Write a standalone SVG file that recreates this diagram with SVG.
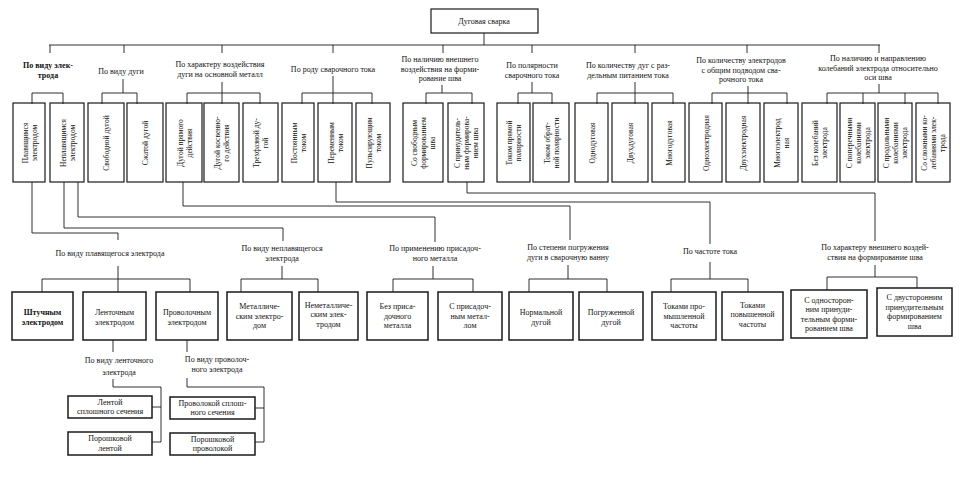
<svg xmlns="http://www.w3.org/2000/svg" width="960" height="487" viewBox="0 0 960 487">
<style>
.bg{fill:#fff}
.box{fill:none;stroke:#1a1a1a;stroke-width:1.2}
.bb{fill:none;stroke:#1a1a1a;stroke-width:1.5}
.ln{fill:none;stroke:#1a1a1a;stroke-width:0.9}
.t{font-family:"Liberation Serif","DejaVu Serif",serif;font-size:8px;fill:#111;text-anchor:middle}
.v{font-family:"Liberation Serif","DejaVu Serif",serif;font-size:7.5px;fill:#111;text-anchor:middle}
.b{font-weight:bold}
</style>
<rect class="bg" x="0" y="0" width="960" height="487"/>

<g id="connectors">
<path class="ln" d="M484 33V45M49 45H880"/>
<path class="ln" d="M50 45V53M124 45V53M222 45V53M333 45V53M443 45V53M532 45V53M635 45V53M747 45V53M879 45V53"/>
<path class="ln" d="M32 104V93H63V104"/>
<path class="ln" d="M123 79V93M102 104V93H137V104"/>
<path class="ln" d="M222 82V104M187 104V93H260V104"/>
<path class="ln" d="M333 76V104M302 104V93H372V104"/>
<path class="ln" d="M442 85V93M426 104V93H472V104"/>
<path class="ln" d="M532 82V93M518 104V93H552V104"/>
<path class="ln" d="M635 82V104M597 104V93H673V104"/>
<path class="ln" d="M748 86V104M712 104V93H787V104"/>
<path class="ln" d="M879 84V93M827 104V93H938V104M863 93V104M905 93V104"/>
<path class="ln" d="M32 182V233H118V240"/>
<path class="ln" d="M64 182V228H283V241"/>
<path class="ln" d="M78 182V217H435V242"/>
<path class="ln" d="M183 182V206H570V240"/>
<path class="ln" d="M336 182V202H710V244"/>
<path class="ln" d="M467 182V193H875V241"/>
<path class="ln" d="M118 266V292M42 292V279H190V292"/>
<path class="ln" d="M282 266V279M241 292V279H318V292"/>
<path class="ln" d="M433 266V279M393 292V279H473V292"/>
<path class="ln" d="M568 265V279M529 292V279H607V292"/>
<path class="ln" d="M710 262V279M671 292V279H748V292"/>
<path class="ln" d="M875 265V277M827 290V277H917V288"/>
<path class="ln" d="M113 340V352M113 379V387H161V442H152M152 407H161"/>
<path class="ln" d="M187 340V352M187 378V387H264V442H255M255 408H264"/>
</g>

<g id="root">
<rect class="box" x="431" y="9" width="107" height="24"/>
<text class="t" x="484" y="24">Дуговая сварка</text>
</g>

<g id="group-labels">
<text class="t b" x="48" y="68">По виду элек-<tspan x="48" y="78">трода</tspan></text>
<text class="t" x="121" y="74">По виду дуги</text>
<text class="t" x="220" y="67">По характеру воздействия<tspan x="220" y="77">дуги на основной металл</tspan></text>
<text class="t" x="333" y="72">По роду сварочного тока</text>
<text class="t" x="440" y="62">По наличию внешнего<tspan x="440" y="71.5">воздействия на форми-</tspan><tspan x="440" y="81">рование шва</tspan></text>
<text class="t" x="532" y="68">По полярности<tspan x="532" y="78">сварочного тока</tspan></text>
<text class="t" x="628" y="68">По количеству дуг с раз-<tspan x="628" y="78">дельным питанием тока</tspan></text>
<text class="t" x="741" y="63">По количеству электродов<tspan x="741" y="72.5">с общим подводом сва-</tspan><tspan x="741" y="82">рочного тока</tspan></text>
<text class="t" x="878" y="61">По наличию и направлению<tspan x="878" y="70.5">колебаний электрода относительно</tspan><tspan x="878" y="80">оси шва</tspan></text>
</g>

<g id="v1"><rect class="box" x="13" y="103" width="32" height="79"/><text class="v" transform="translate(29,143) rotate(-90)"><tspan x="0" y="-1.5">Плавящимся</tspan><tspan x="0" y="7.5">электродом</tspan></text></g>
<g id="v2"><rect class="box" x="50" y="103" width="34" height="79"/><text class="v" transform="translate(67,143) rotate(-90)"><tspan x="0" y="-1.5">Неплавящимся</tspan><tspan x="0" y="7.5">электродом</tspan></text></g>
<g id="v3"><rect class="box" x="88" y="103" width="36" height="79"/><text class="v" transform="translate(106,143) rotate(-90)"><tspan x="0" y="3">Свободной дугой</tspan></text></g>
<g id="v4"><rect class="box" x="127" y="103" width="36" height="79"/><text class="v" transform="translate(145,143) rotate(-90)"><tspan x="0" y="3">Сжатой дугой</tspan></text></g>
<g id="v5"><rect class="box" x="166" y="103" width="36" height="79"/><text class="v" transform="translate(184,143) rotate(-90)"><tspan x="0" y="-1.5">Дугой прямого</tspan><tspan x="0" y="7.5">действия</tspan></text></g>
<g id="v6"><rect class="box" x="204" y="103" width="35" height="79"/><text class="v" transform="translate(221.5,143) rotate(-90)"><tspan x="0" y="-1.5">Дугой косвенно-</tspan><tspan x="0" y="7.5">го действия</tspan></text></g>
<g id="v7"><rect class="box" x="243" y="103" width="35" height="79"/><text class="v" transform="translate(260.5,143) rotate(-90)"><tspan x="0" y="-1.5">Трехфазной ду-</tspan><tspan x="0" y="7.5">гой</tspan></text></g>
<g id="v8"><rect class="box" x="282" y="103" width="32" height="79"/><text class="v" transform="translate(298,143) rotate(-90)"><tspan x="0" y="-1.5">Постоянным</tspan><tspan x="0" y="7.5">током</tspan></text></g>
<g id="v9"><rect class="box" x="318" y="103" width="34" height="79"/><text class="v" transform="translate(335,143) rotate(-90)"><tspan x="0" y="-1.5">Переменным</tspan><tspan x="0" y="7.5">током</tspan></text></g>
<g id="v10"><rect class="box" x="356" y="103" width="34" height="79"/><text class="v" transform="translate(373,143) rotate(-90)"><tspan x="0" y="-1.5">Пульсирующим</tspan><tspan x="0" y="7.5">током</tspan></text></g>
<g id="v11"><rect class="box" x="403" y="103" width="40" height="79"/><text class="v" transform="translate(423,143) rotate(-90)"><tspan x="0" y="-6">Со свободным</tspan><tspan x="0" y="3">формированием</tspan><tspan x="0" y="12">шва</tspan></text></g>
<g id="v12"><rect class="box" x="448" y="103" width="36" height="79"/><text class="v" transform="translate(466,143) rotate(-90)"><tspan x="0" y="-6">С принудитель-</tspan><tspan x="0" y="3">ным формирова-</tspan><tspan x="0" y="12">нием шва</tspan></text></g>
<g id="v13"><rect class="box" x="497" y="103" width="33" height="79"/><text class="v" transform="translate(513.5,143) rotate(-90)"><tspan x="0" y="-1.5">Током прямой</tspan><tspan x="0" y="7.5">полярности</tspan></text></g>
<g id="v14"><rect class="box" x="533" y="103" width="36" height="79"/><text class="v" transform="translate(551,143) rotate(-90)"><tspan x="0" y="-1.5">Током обрат-</tspan><tspan x="0" y="7.5">ной полярности</tspan></text></g>
<g id="v15"><rect class="box" x="575" y="103" width="33" height="79"/><text class="v" transform="translate(591.5,143) rotate(-90)"><tspan x="0" y="3">Однодуговая</tspan></text></g>
<g id="v16"><rect class="box" x="612" y="103" width="36" height="79"/><text class="v" transform="translate(630,143) rotate(-90)"><tspan x="0" y="3">Двухдуговая</tspan></text></g>
<g id="v17"><rect class="box" x="652" y="103" width="33" height="79"/><text class="v" transform="translate(668.5,143) rotate(-90)"><tspan x="0" y="3">Многодуговая</tspan></text></g>
<g id="v18"><rect class="box" x="689" y="103" width="33" height="79"/><text class="v" transform="translate(705.5,143) rotate(-90)"><tspan x="0" y="3">Одноэлектродная</tspan></text></g>
<g id="v19"><rect class="box" x="726" y="103" width="34" height="79"/><text class="v" transform="translate(743,143) rotate(-90)"><tspan x="0" y="3">Двухэлектродная</tspan></text></g>
<g id="v20"><rect class="box" x="764" y="103" width="34" height="79"/><text class="v" transform="translate(781,143) rotate(-90)"><tspan x="0" y="-1.5">Многоэлектрод</tspan><tspan x="0" y="7.5">ная</tspan></text></g>
<g id="v21"><rect class="box" x="802" y="103" width="35" height="79"/><text class="v" transform="translate(819.5,143) rotate(-90)"><tspan x="0" y="-1.5">Без колебаний</tspan><tspan x="0" y="7.5">электрода</tspan></text></g>
<g id="v22"><rect class="box" x="840" y="103" width="35" height="79"/><text class="v" transform="translate(857.5,143) rotate(-90)"><tspan x="0" y="-6">С поперечными</tspan><tspan x="0" y="3">колебаниями</tspan><tspan x="0" y="12">электрода</tspan></text></g>
<g id="v23"><rect class="box" x="878" y="103" width="34" height="79"/><text class="v" transform="translate(895,143) rotate(-90)"><tspan x="0" y="-6">С продольными</tspan><tspan x="0" y="3">колебаниями</tspan><tspan x="0" y="12">электрода</tspan></text></g>
<g id="v24"><rect class="box" x="916" y="103" width="34" height="79"/><text class="v" transform="translate(933,143) rotate(-90)"><tspan x="0" y="-6">Со сложными ко-</tspan><tspan x="0" y="3">лебаниями элек-</tspan><tspan x="0" y="12">трода</tspan></text></g>

<g id="mid-labels">
<text class="t" x="110" y="256">По виду плавящегося электрода</text>
<text class="t" x="282" y="251">По виду неплавящегося<tspan x="282" y="260.5">электрода</tspan></text>
<text class="t" x="435" y="251">По применению присадоч-<tspan x="435" y="260.5">ного металла</tspan></text>
<text class="t" x="568" y="250">По степени погружения<tspan x="568" y="259.5">дуги в сварочную ванну</tspan></text>
<text class="t" x="710" y="254">По частоте тока</text>
<text class="t" x="875" y="250">По характеру внешнего воздей-<tspan x="875" y="259.5">ствия  на формирование шва</tspan></text>
</g>

<g id="b1"><rect class="bb" x="12" y="292" width="61" height="48"/><text class="t b" x="42.5" y="315">Штучным<tspan x="42.5" y="325">электродом</tspan></text></g>
<g id="b2"><rect class="bb" x="83" y="292" width="63" height="48"/><text class="t" x="114.5" y="315">Ленточным<tspan x="114.5" y="325">электродом</tspan></text></g>
<g id="b3"><rect class="bb" x="156" y="292" width="62" height="48"/><text class="t" x="187" y="315">Проволочным<tspan x="187" y="325">электродом</tspan></text></g>
<g id="b4"><rect class="bb" x="227" y="292" width="65" height="48"/><text class="t" x="259.5" y="309">Металличе-<tspan x="259.5" y="318.5">ским электро-</tspan><tspan x="259.5" y="328">дом</tspan></text></g>
<g id="b5"><rect class="bb" x="299" y="292" width="59" height="48"/><text class="t" x="328.5" y="307.5">Неметалличе-<tspan x="328.5" y="317">ским элек-</tspan><tspan x="328.5" y="326.5">тродом</tspan></text></g>
<g id="b6"><rect class="bb" x="367" y="292" width="61" height="48"/><text class="t" x="397.5" y="309">Без приса-<tspan x="397.5" y="318.5">дочного</tspan><tspan x="397.5" y="328">металла</tspan></text></g>
<g id="b7"><rect class="bb" x="438" y="292" width="64" height="48"/><text class="t" x="470" y="309">С присадоч-<tspan x="470" y="318.5">ным метал-</tspan><tspan x="470" y="328">лом</tspan></text></g>
<g id="b8"><rect class="bb" x="509" y="292" width="64" height="48"/><text class="t" x="541" y="315">Нормальной<tspan x="541" y="325">дугой</tspan></text></g>
<g id="b9"><rect class="bb" x="579" y="292" width="64" height="48"/><text class="t" x="611" y="315">Погруженной<tspan x="611" y="325">дугой</tspan></text></g>
<g id="b10"><rect class="bb" x="652" y="292" width="64" height="48"/><text class="t" x="684" y="309">Токами про-<tspan x="684" y="318.5">мышленной</tspan><tspan x="684" y="328">частоты</tspan></text></g>
<g id="b11"><rect class="bb" x="722" y="292" width="61" height="48"/><text class="t" x="752.5" y="307.5">Токами<tspan x="752.5" y="317">повышенной</tspan><tspan x="752.5" y="326.5">частоты</tspan></text></g>
<g id="b12"><rect class="bb" x="791" y="290" width="76" height="48"/><text class="t" x="829" y="302.5">С односторон-<tspan x="829" y="312">ним принуди-</tspan><tspan x="829" y="321.5">тельным форми-</tspan><tspan x="829" y="331">рованием шва</tspan></text></g>
<g id="b13"><rect class="bb" x="877" y="288" width="75" height="48"/><text class="t" x="914.5" y="300">С двусторонним<tspan x="914.5" y="309.5">принудительным</tspan><tspan x="914.5" y="319">формированием</tspan><tspan x="914.5" y="328.5">шва</tspan></text></g>

<g id="low-labels">
<text class="t" x="119" y="363">По виду ленточного<tspan x="119" y="375">электрода</tspan></text>
<text class="t" x="217" y="362">По виду проволоч-<tspan x="217" y="371.5">ного электрода</tspan></text>
</g>

<g id="c1"><rect class="bb" x="68" y="396" width="84" height="22"/><text class="t" x="110" y="404.5">Лентой<tspan x="110" y="414">сплошного сечения</tspan></text></g>
<g id="c2"><rect class="bb" x="68" y="432" width="84" height="23"/><text class="t" x="110" y="441">Порошковой<tspan x="110" y="450.5">лентой</tspan></text></g>
<g id="c3"><rect class="bb" x="170" y="397" width="85" height="22"/><text class="t" x="212.5" y="405.5">Проволокой сплош-<tspan x="212.5" y="415">ного сечения</tspan></text></g>
<g id="c4"><rect class="bb" x="170" y="433" width="85" height="22"/><text class="t" x="212.5" y="441.5">Порошковой<tspan x="212.5" y="451">проволокой</tspan></text></g>
</svg>
